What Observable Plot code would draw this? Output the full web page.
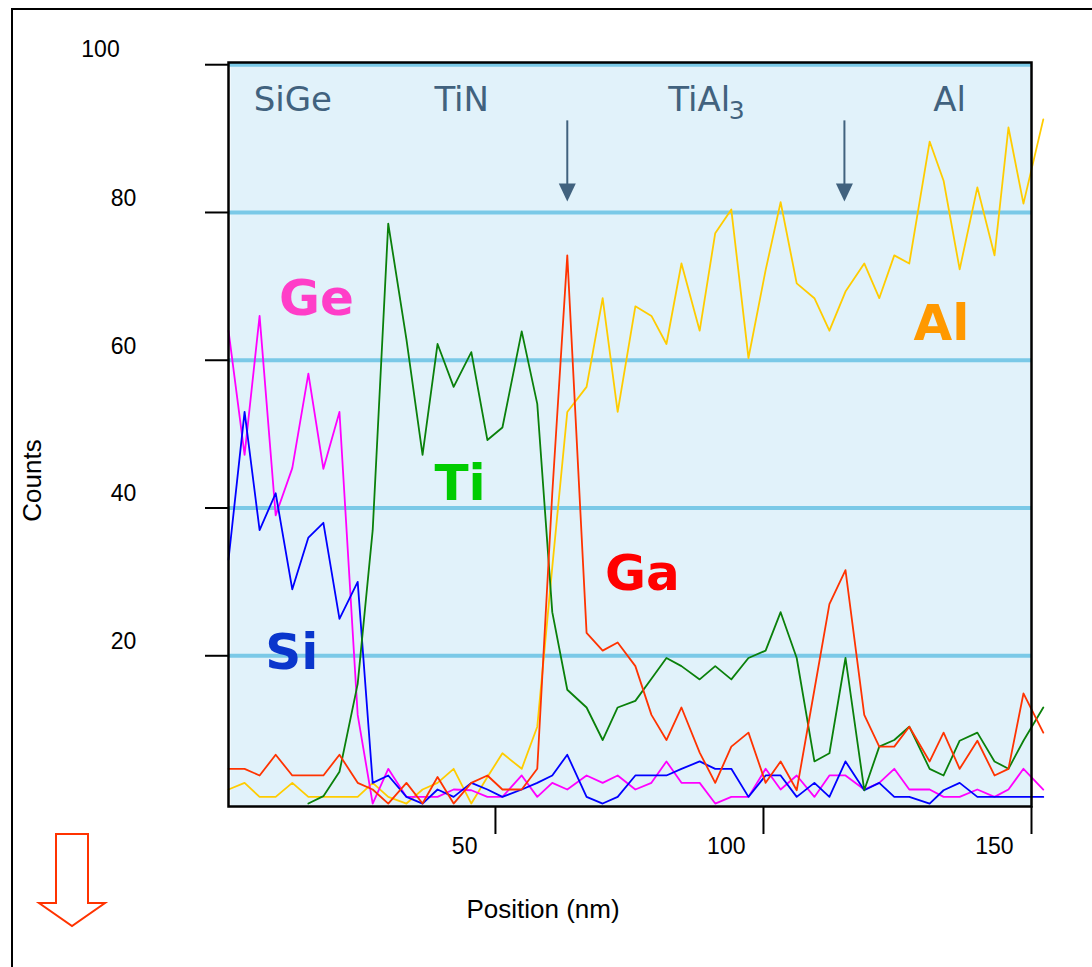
<!DOCTYPE html>
<html>
<head>
<meta charset="utf-8">
<script src="https://cdn.jsdelivr.net/npm/d3@7"></script>
<script src="https://cdn.jsdelivr.net/npm/@observablehq/plot@0.6"></script>
<style>
html, body { margin: 0; padding: 0; overflow: hidden; background: #fff; width: 1092px; height: 967px; }
#chart { position: absolute; left: 0; top: 0; }
#outer { position: absolute; left: 11px; top: 8px; width: 2000px; height: 2000px; border-left: 2px solid #000; border-top: 2px solid #000; pointer-events: none; }
#deco { position: absolute; left: 0; top: 0; pointer-events: none; }
</style>
</head>
<body>
<div id="chart"></div>
<div id="outer"></div>
<svg id="deco" width="1092" height="967"><path d="M56,834H88V903H105L72,926L39,903H56Z" fill="none" stroke="#ff3300" stroke-width="2" stroke-linejoin="miter"/></svg>
<script>
// Position (nm) of every sample
const positions = [0.2,3.2,6.0,9.0,12.1,15.1,17.9,20.9,24.3,27.1,30.0,33.4,36.4,39.2,42.2,45.5,48.5,51.3,54.9,57.8,60.6,63.4,67.0,70.0,72.8,76.1,79.1,81.9,84.7,88.1,91.0,94.0,97.2,100.4,103.2,106.2,109.5,112.3,115.3,118.8,121.6,124.4,127.2,131.0,133.6,136.6,139.9,143.1,145.7,148.5,152.2];

// Counts per element
const alCounts = [1.9,2.8,0.9,0.9,2.8,0.9,0.9,0.9,0.9,2.8,0.9,0,1.9,2.8,4.7,0,3.6,6.8,4.7,10.4,32,53,56.4,68.4,53,67.3,66,62.2,73.1,64,77.2,80.4,60.3,72.2,81.4,70.4,68.4,64,69.3,73.1,68.4,74.2,73.1,89.6,84.3,72.3,83.4,74.2,91.5,81.2,92.6];
const geCounts = [64,47.2,66,39,45.4,58.2,45.3,53,12,0,4.7,0.9,0.9,0.9,1.9,1.8,0.9,0.9,3.8,0.9,2.8,1.9,3.8,2.8,3.8,1.9,2.8,5.7,2.8,2.8,0,0.9,0.9,4.7,1.9,3.8,0.9,3.8,3.8,1.9,2.8,4.7,1.9,1.9,0.9,0.9,1.9,0.9,1.9,4.7,1.9];
const siCounts = [33,53,37,42,29,36,38,25,30,2.8,3.8,0.9,0,1.9,0.9,2.8,1.9,0.9,1.9,2.8,3.8,6.6,0.9,0,0.9,3.8,3.8,3.8,4.7,5.7,4.7,4.7,0.9,3.8,3.8,0.9,2.8,0.9,5.7,1.8,2.8,0.9,0.9,0,1.8,2.8,0.9,0.9,0.9,0.9,0.9];
const tiCounts = [null,null,null,null,null,0,1,4.3,16.2,37,78.5,62.8,47.2,62.2,56.4,61.1,49.2,50.9,63.9,54.1,25.9,15.4,13,8.6,13,13.9,16.9,19.7,18.6,16.8,18.6,16.8,19.7,20.7,25.9,19.7,5.7,6.8,19.7,1.8,7.7,8.6,10.4,4.7,3.8,8.5,9.6,5.7,4.7,8.5,13];
const gaCounts = [4.7,4.7,3.8,6.6,3.8,3.8,3.8,6.6,2.8,1.9,0,2.8,0,3.6,0,2.8,3.8,1.9,1.9,4.7,42,74.2,23.1,20.7,21.8,18.6,12,8.6,13,6.9,2.8,7.7,9.6,2.8,5.7,1.8,15.4,27,31.6,12,7.7,7.7,10.4,5.7,9.6,4.7,8.5,3.8,4.7,14.9,9.6];

// Ticks and grid
const xTicks = [50, 100, 150];
const yTicks = [20, 40, 60, 80];
const yTopTick = [100];
const gridValues = [20, 40, 60, 80, 100];

// Element labels (data coordinates)
const elementNames = ["Ge", "Ti", "Ga", "Si", "Al"];
const elementX = [16.6, 43.4, 77.4, 12.0, 133.2];
const elementY = [66.1, 41.1, 28.9, 18.2, 62.7];

// Layer labels (data coordinates)
const layerNames = ["SiGe", "TiN", "TiAl", "Al"];
const layerX = [12.2, 43.7, 88.0, 134.7];
const layerY = 93.8;
const subscriptText = ["3"];
const subscriptX = [93.5];

// Interface arrows
const arrowX = [63.4, 115.1];
const arrowTop = 92.4;
const arrowShaftEnd = 83.5;
const arrowHeadY = 82.7;

const rows = (arr) => positions.map((x, i) => ({x, count: arr[i]}));
const elementRows = elementNames.map((name, i) => ({name, x: elementX[i], y: elementY[i]}));
const layerRows = layerNames.map((name, i) => ({name, x: layerX[i]}));

const slate = "#41627e";
const downTriangle = {
  draw(ctx) {
    ctx.moveTo(-8.5, -9);
    ctx.lineTo(8.5, -9);
    ctx.lineTo(0, 9);
    ctx.closePath();
  }
};

const chart = Plot.plot({
  width: 1092,
  height: 967,
  marginLeft: 228,
  marginRight: 61,
  marginTop: 62,
  marginBottom: 161,
  x: {domain: [0.2, 150]},
  y: {domain: [-0.4, 100.3]},
  color: {domain: elementNames, range: ["#ff3ec8", "#00cc00", "#ff0000", "#0a36cc", "#ff9900"]},
  style: {fontFamily: "'Liberation Sans', Arial, sans-serif", fontSize: "23px", background: "transparent", overflow: "visible", color: "black"},
  marks: [
    Plot.frame({fill: "#e1f2fa", insetLeft: 2}),
    Plot.ruleY(gridValues, {stroke: "#7ac9e7", strokeWidth: 4}),
    Plot.line(rows(alCounts), {x: "x", y: "count", stroke: "#ffcc00", strokeWidth: 1.8}),
    Plot.line(rows(geCounts), {x: "x", y: "count", stroke: "#ff00ff", strokeWidth: 1.8}),
    Plot.line(rows(siCounts), {x: "x", y: "count", stroke: "#0000ff", strokeWidth: 1.8}),
    Plot.line(rows(tiCounts), {x: "x", y: "count", stroke: "#0a800a", strokeWidth: 1.8}),
    Plot.line(rows(gaCounts), {x: "x", y: "count", stroke: "#ff3300", strokeWidth: 1.8}),
    Plot.text(elementRows, {x: "x", y: "y", text: "name", fill: "name", fontFamily: "'DejaVu Sans', Verdana, sans-serif", fontWeight: "bold", fontSize: 50, textAnchor: "middle", lineAnchor: "bottom"}),
    Plot.text(layerRows, {x: "x", y: () => layerY, text: "name", fill: slate, fontFamily: "'DejaVu Sans', Verdana, sans-serif", fontSize: 34, textAnchor: "middle", lineAnchor: "bottom"}),
    Plot.text(subscriptText, {x: (d, i) => subscriptX[i], y: () => layerY, text: d => d, fill: slate, fontFamily: "'DejaVu Sans', Verdana, sans-serif", fontSize: 25, textAnchor: "start", lineAnchor: "bottom", dy: 8}),
    Plot.ruleX(arrowX, {x: d => d, y1: () => arrowTop, y2: () => arrowShaftEnd, stroke: slate, strokeWidth: 2}),
    Plot.dot(arrowX, {x: d => d, y: () => arrowHeadY, symbol: downTriangle, fill: slate, stroke: "none", r: 8}),
    Plot.axisX({ticks: xTicks, tickSize: 28, strokeWidth: 2, fill: "none", label: null}),
    Plot.axisX({ticks: xTicks, tickSize: 0, tickPadding: 0, textAnchor: "end", dx: -18, dy: 31, fontSize: 23, label: null}),
    Plot.axisY({ticks: gridValues, tickSize: 23, strokeWidth: 2, fill: "none", label: null}),
    Plot.axisY({ticks: yTicks, tickSize: 0, tickPadding: 0, textAnchor: "middle", dx: -105, dy: -14, fontSize: 23, label: null}),
    Plot.axisY({ticks: yTopTick, tickSize: 0, tickPadding: 0, textAnchor: "middle", dx: -128, dy: -15, fontSize: 23, label: null}),
    Plot.text(["Position (nm)"], {frameAnchor: "bottom", text: d => d, textAnchor: "middle", dx: -87, dy: 111, lineAnchor: "bottom", fontSize: 26}),
    Plot.text(["Counts"], {frameAnchor: "left", text: d => d, textAnchor: "middle", dx: -196, dy: 46, rotate: -90, lineAnchor: "middle", fontSize: 26}),
    Plot.frame({stroke: "black", strokeWidth: 2.5})
  ]
});
document.getElementById("chart").appendChild(chart);
</script>
</body>
</html>
